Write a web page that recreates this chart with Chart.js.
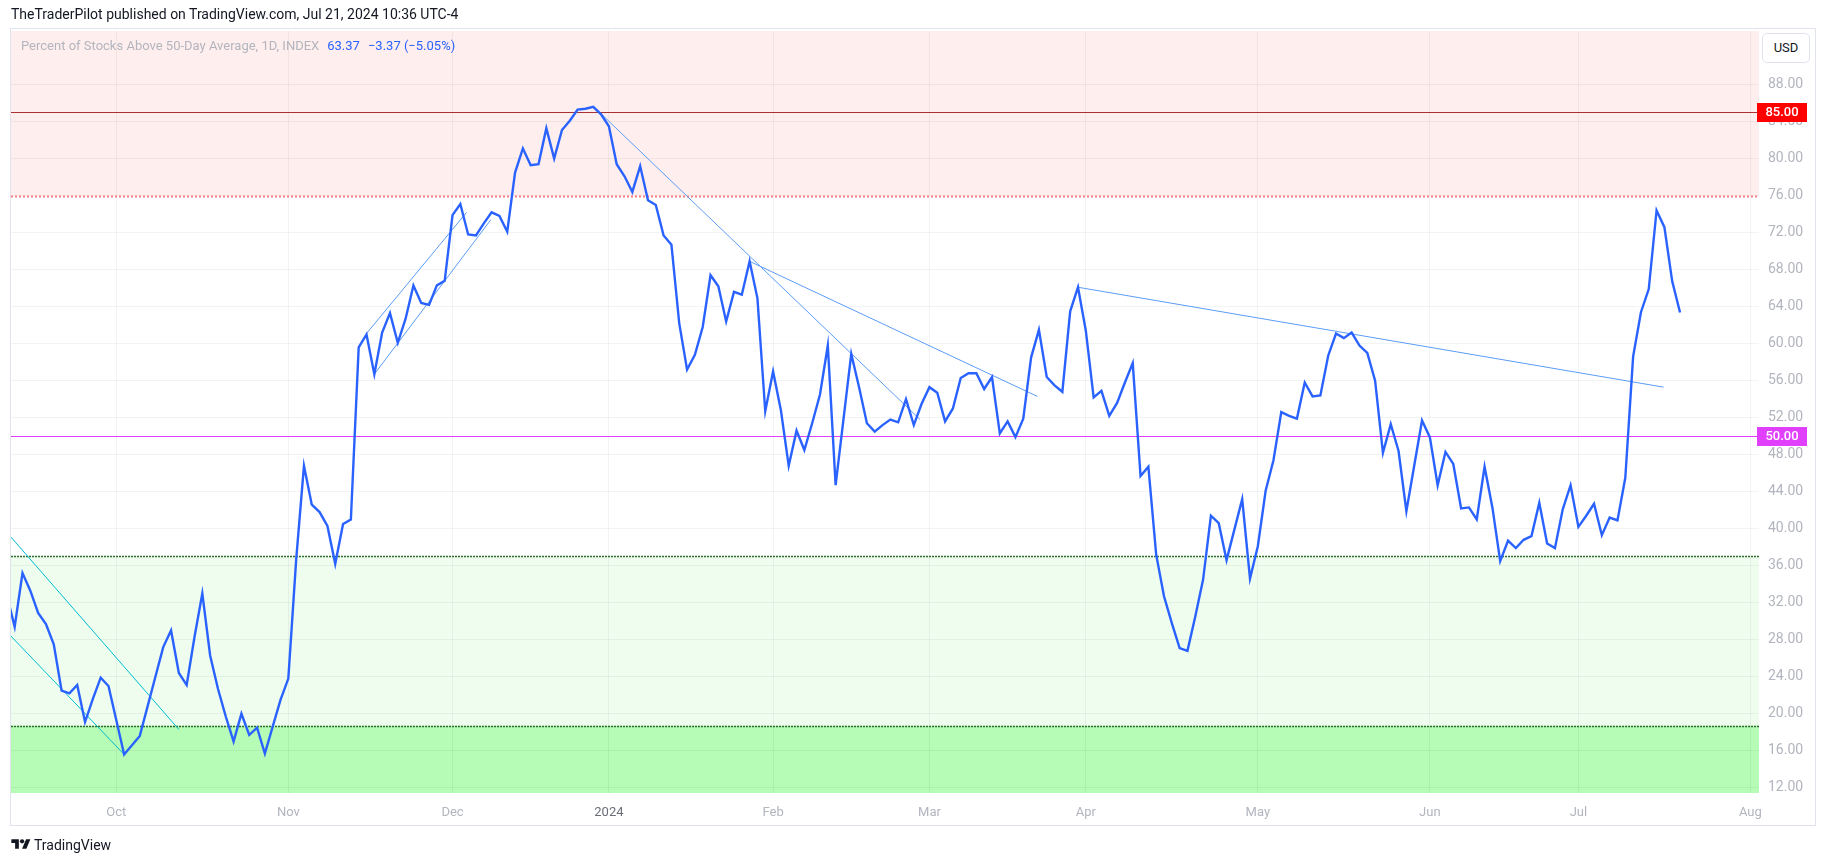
<!DOCTYPE html>
<html lang="en">
<head>
    <meta charset="UTF-8">
    <title>Percent of Stocks Above 50-Day Average</title>
    <script src="https://cdn.jsdelivr.net/npm/chart.js"></script>
    <style>
        html, body { margin: 0; padding: 0; background: #fff; }
        body { width: 1827px; height: 864px; position: relative; overflow: hidden; font-family: Roboto, "Liberation Sans", sans-serif; }
        canvas { position: absolute; left: 0; top: 0; }
        #header { position: absolute; left: 11px; top: 6px; font-size: 14px; color: #131722; white-space: nowrap; }
        #legend { position: absolute; left: 21px; top: 38px; font-size: 13px; color: #b2b5be; white-space: nowrap; z-index: 2; }
        #legend .val { color: #2962ff; margin-left: 8px; }
        #usd { position: absolute; left: 1762px; top: 33px; width: 48px; height: 30px; border: 1px solid #e0e3eb; border-radius: 5px; box-sizing: border-box; font-size: 13px; color: #131722; text-align: center; line-height: 28px; background: #fff; z-index: 2; }
        #footer { position: absolute; left: 11px; top: 836px; height: 17px; display: flex; align-items: center; font-size: 14px; color: #131722; }
        #footer svg { margin-right: 3px; }
    </style>
</head>
<body>
    <canvas id="breadthChart" width="1827" height="864"></canvas>
    <div id="header">TheTraderPilot published on TradingView.com, Jul 21, 2024 10:36 UTC-4</div>
    <div id="legend">Percent of Stocks Above 50-Day Average, 1D, INDEX<span class="val">63.37</span><span class="val">−3.37 (−5.05%)</span></div>
    <div id="usd">USD</div>
    <div id="footer">
        <svg width="20" height="15" viewBox="0 0 36 28"><path d="M14 22H7V11H0V4h14v18z" fill="#131722"/><circle cx="20" cy="8" r="4" fill="#131722"/><path d="M28 22h-8l7.5-18h8L28 22z" fill="#131722"/></svg>
        TradingView
    </div>

    <script>
        // daily closes, bar index 0 = Oct 2 2023 (first bar is index -14)
        const firstBar = -14;
        const closes = [
            32.8, 29.4, 35.2, 33.3, 30.9, 29.7, 27.5, 22.5, 22.2, 23.1, 19.1, 21.6, 23.9, 23.0,
            19.3, 15.6, 16.6, 17.6, 20.8, 24.0, 27.2, 29.0, 24.4, 23.1, 28.3, 33.0, 26.3, 22.7,
            19.7, 17.0, 20.0, 17.7, 18.5, 15.7, 18.6, 21.5, 23.8, 36.6, 46.8, 42.6, 41.8, 40.3,
            36.2, 40.5, 41.0, 59.6, 61.0, 56.7, 61.2, 63.3, 60.1, 62.7, 66.3, 64.4, 64.2, 66.3,
            66.8, 73.9, 75.1, 71.8, 71.7, 73.0, 74.2, 73.8, 72.1, 78.5, 81.1, 79.3, 79.4, 83.3,
            80.0, 83.1, 84.1, 85.3, 85.4, 85.6, 84.8, 83.5, 79.4, 78.1, 76.4, 79.2, 75.5, 75.0,
            71.7, 70.7, 62.2, 57.2, 58.8, 61.8, 67.4, 66.2, 62.4, 65.6, 65.3, 68.9, 64.9, 52.7,
            57.0, 52.8, 46.8, 50.6, 48.5, 51.4, 54.5, 59.8, 44.7, 51.8, 58.9, 55.3, 51.4, 50.5,
            51.2, 51.8, 51.5, 54.0, 51.2, 53.5, 55.3, 54.7, 51.6, 53.0, 56.3, 56.8, 56.8, 55.1,
            56.4, 50.3, 51.6, 49.9, 51.9, 58.5, 61.5, 56.4, 55.5, 54.8, 63.5, 66.1, 61.4, 54.2,
            54.9, 52.2, 53.6, 55.8, 57.9, 45.7, 46.7, 37.2, 32.7, 29.8, 27.1, 26.8, 30.5, 34.5,
            41.4, 40.6, 36.6, 39.9, 43.2, 34.6, 38.1, 44.1, 47.4, 52.6, 52.2, 51.9, 55.8, 54.3,
            54.4, 58.7, 61.1, 60.6, 61.2, 59.8, 59.0, 56.0, 48.2, 51.3, 48.4, 41.9, 46.8, 51.7,
            49.9, 44.7, 48.3, 47.0, 42.2, 42.3, 41.0, 46.7, 42.3, 36.5, 38.7, 37.9, 38.8, 39.2,
            42.8, 38.4, 37.9, 42.1, 44.7, 40.2, 41.4, 42.7, 39.3, 41.2, 40.9, 45.5, 58.6, 63.4,
            65.9, 74.4, 72.6, 66.74, 63.37
        ];

        // time axis: first trading bar of each month
        const monthBars = [0, 22, 43, 63, 84, 104, 124, 146, 168, 187, 209];
        const monthLabels = ['Oct', 'Nov', 'Dec', '2024', 'Feb', 'Mar', 'Apr', 'May', 'Jun', 'Jul', 'Aug'];
        const priceTicks = [12, 16, 20, 24, 28, 32, 36, 40, 44, 48, 52, 56, 60, 64, 68, 72, 76, 80, 84, 88];

        // drawn levels and zones
        const resistance = 85;
        const overbought = 76;
        const midline = 50;
        const oversold = 37;
        const extremeLow = 18.7;

        // hand drawn trend lines: [bar, value] pairs
        const cyanUpper = [[-14, 39.6], [8.0, 18.3]];
        const cyanLower = [[-14, 28.85], [1, 15.6]];
        const channelUpper = [[32, 61.1], [44.8, 74.2]];
        const channelLower = [[33, 56.7], [47.9, 73.4]];
        const downTrend1 = [[61.2, 85.5], [102.8, 51.8]];
        const downTrend2 = [[81, 68.9], [117.8, 54.3]];
        const downTrend3 = [[123, 66.1], [197.9, 55.3]];

        const axisFont = 'Roboto, "Liberation Sans", sans-serif';

        function toPoints(pairs) {
            return pairs.map(p => ({ x: p[0], y: p[1] }));
        }

        function trendSet(pairs, color) {
            return {
                data: toPoints(pairs),
                borderColor: color,
                borderWidth: 1,
                pointRadius: 0,
                tension: 0
            };
        }

        function hLine(ctx, area, y, color, width, dash) {
            ctx.save();
            ctx.beginPath();
            ctx.strokeStyle = color;
            ctx.lineWidth = width;
            ctx.setLineDash(dash);
            ctx.moveTo(area.left, Math.round(y) + 0.5);
            ctx.lineTo(area.right, Math.round(y) + 0.5);
            ctx.stroke();
            ctx.restore();
        }

        function badge(ctx, scale, value, bg) {
            const y = Math.round(scale.getPixelForValue(value));
            ctx.save();
            ctx.fillStyle = bg;
            ctx.fillRect(scale.left - 2, y - 9, 50, 19);
            ctx.fillStyle = '#ffffff';
            ctx.font = '500 13px ' + axisFont;
            ctx.textAlign = 'center';
            ctx.textBaseline = 'middle';
            ctx.fillText(value.toFixed(2), scale.left + 23, y + 1);
            ctx.restore();
        }

        const levelsPlugin = {
            id: 'levels',
            beforeDraw(chart) {
                const { ctx, chartArea: a, scales: { y } } = chart;
                ctx.save();
                const top = y.getPixelForValue(y.max);
                const ob = y.getPixelForValue(overbought);
                const os = y.getPixelForValue(oversold);
                const el = y.getPixelForValue(extremeLow);
                const bottom = y.getPixelForValue(y.min);
                ctx.fillStyle = '#ffeeee';
                ctx.fillRect(a.left, top, a.right - a.left, ob - top);
                ctx.fillStyle = '#effdef';
                ctx.fillRect(a.left, os, a.right - a.left, el - os);
                ctx.fillStyle = '#b6fcb6';
                ctx.fillRect(a.left, el, a.right - a.left, bottom - el);
                ctx.restore();
            },
            beforeDatasetsDraw(chart) {
                const { ctx, chartArea: a, scales: { y } } = chart;
                hLine(ctx, a, y.getPixelForValue(resistance), '#a83232', 1, []);
                hLine(ctx, a, y.getPixelForValue(overbought), '#f77c80', 2, [2, 2]);
                hLine(ctx, a, y.getPixelForValue(midline), '#e040fb', 1, []);
                hLine(ctx, a, y.getPixelForValue(oversold), '#2f6b2f', 1.5, [2, 1]);
                hLine(ctx, a, y.getPixelForValue(extremeLow), '#2f6b2f', 1.5, [2, 1]);
            },
            afterDraw(chart) {
                const { ctx, scales: { y } } = chart;
                badge(ctx, y, resistance, '#ff0000');
                badge(ctx, y, midline, '#e040fb');
                ctx.save();
                ctx.strokeStyle = '#e0e3eb';
                ctx.lineWidth = 1;
                ctx.strokeRect(10.5, 28.5, 1805, 797);
                ctx.restore();
            }
        };

        const ctx = document.getElementById('breadthChart').getContext('2d');

        new Chart(ctx, {
            type: 'line',
            data: {
                datasets: [
                    {
                        data: closes.map((v, k) => ({ x: firstBar + k, y: v })),
                        borderColor: '#2962ff',
                        borderWidth: 2.4,
                        pointRadius: 0,
                        tension: 0
                    },
                    trendSet(cyanUpper, '#00bcd4'),
                    trendSet(cyanLower, '#00bcd4'),
                    trendSet(channelUpper, '#5b9cf6'),
                    trendSet(channelLower, '#5b9cf6'),
                    trendSet(downTrend1, '#5b9cf6'),
                    trendSet(downTrend2, '#5b9cf6'),
                    trendSet(downTrend3, '#5b9cf6')
                ]
            },
            options: {
                responsive: false,
                animation: false,
                parsing: false,
                layout: { padding: { left: 11, top: 31, right: 12, bottom: 38 } },
                plugins: {
                    legend: { display: false },
                    tooltip: { enabled: false }
                },
                scales: {
                    x: {
                        type: 'linear',
                        min: -13.47,
                        max: 210.1,
                        afterBuildTicks: axis => { axis.ticks = monthBars.map(v => ({ value: v })); },
                        afterFit: axis => { axis.height = 33; },
                        ticks: {
                            autoSkip: false,
                            maxRotation: 0,
                            padding: 12,
                            callback: (v, i) => monthLabels[i],
                            color: c => (c.tick && c.tick.value === 63) ? '#6a6d78' : '#b2b5be',
                            font: { family: axisFont, size: 13 }
                        },
                        grid: { color: 'rgba(42, 46, 57, 0.06)', drawTicks: false },
                        border: { display: false }
                    },
                    y: {
                        position: 'right',
                        min: 11.43,
                        max: 93.8,
                        afterBuildTicks: axis => { axis.ticks = priceTicks.map(v => ({ value: v })); },
                        afterFit: axis => { axis.width = 56; },
                        ticks: {
                            padding: 9,
                            crossAlign: 'near',
                            callback: v => v.toFixed(2),
                            color: '#b2b5be',
                            font: { family: axisFont, size: 14 }
                        },
                        grid: { color: 'rgba(42, 46, 57, 0.06)', drawTicks: false },
                        border: { display: false }
                    }
                }
            },
            plugins: [levelsPlugin]
        });
    </script>
</body>
</html>
